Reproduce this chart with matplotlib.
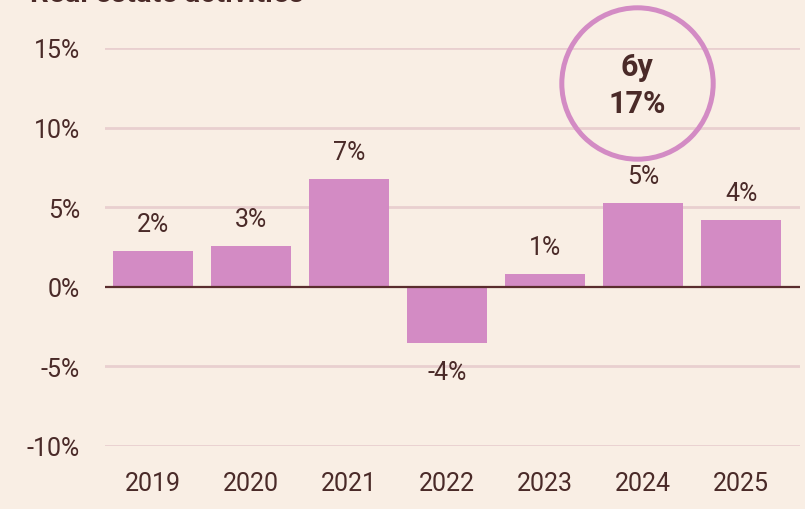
import matplotlib.pyplot as plt

years = ['2019', '2020', '2021', '2022', '2023', '2024', '2025']
growth = [2.25, 2.55, 6.75, -3.55, 0.8, 5.25, 4.2]
labels = ['2%', '3%', '7%', '-4%', '1%', '5%', '4%']
yticks = [-10, -5, 0, 5, 10, 15]
badge_lines = ['6y', '17%']

bg = '#f9eee4'
bar_color = '#d38bc4'
text_color = '#4a2a28'
grid_color = '#e9cfcf'

plt.rcParams['font.family'] = ['Roboto', 'DejaVu Sans']

fig = plt.figure(figsize=(8.05, 5.1), dpi=100, facecolor=bg)
ax = fig.add_axes([105 / 805, 63 / 510, 695 / 805, 398 / 510])
ax.set_facecolor(bg)

x = list(range(len(years)))
bars = ax.bar(x, growth, width=0.82, color=bar_color, zorder=2)

for xi, v, lab in zip(x, growth, labels):
    if v >= 0:
        ax.annotate(lab, (xi, v), xytext=(0, 11), textcoords='offset points',
                    ha='center', va='bottom', fontsize=18, color=text_color)
    else:
        ax.annotate(lab, (xi, v), xytext=(0, -12), textcoords='offset points',
                    ha='center', va='top', fontsize=18, color=text_color)

ax.set_xlim(-0.49, 6.6)
ax.set_ylim(-10, 15)
ax.set_yticks(yticks)
ax.set_yticklabels([f'{t}%' for t in yticks])
ax.set_xticks(x)
ax.set_xticklabels(years)
ax.tick_params(length=0, labelsize=18, labelcolor=text_color)
ax.tick_params(axis='y', pad=18)
ax.tick_params(axis='x', pad=18)

for t in yticks:
    if t != 0:
        ax.axhline(t, color=grid_color, lw=2, zorder=1)
ax.axhline(0, color='#5a2d2d', lw=1.6, zorder=3)

for s in ax.spines.values():
    s.set_visible(False)

# badge circle
ax.plot([4.935], [12.8], marker='o', markersize=109, markerfacecolor='none',
        markeredgecolor=bar_color, markeredgewidth=3.6, clip_on=False, zorder=4)
ax.text(4.935, 13.9, badge_lines[0], ha='center', va='center', fontsize=22,
        fontweight='bold', color=text_color, clip_on=False)
ax.text(4.935, 11.55, badge_lines[1], ha='center', va='center', fontsize=22,
        fontweight='bold', color=text_color, clip_on=False)

fig.text(30 / 805, 1 - 2 / 510, 'Real estate activities', ha='left', va='baseline',
         fontsize=21, fontweight='bold', color=text_color)

fig.savefig('out.png', dpi=100, facecolor=bg)
